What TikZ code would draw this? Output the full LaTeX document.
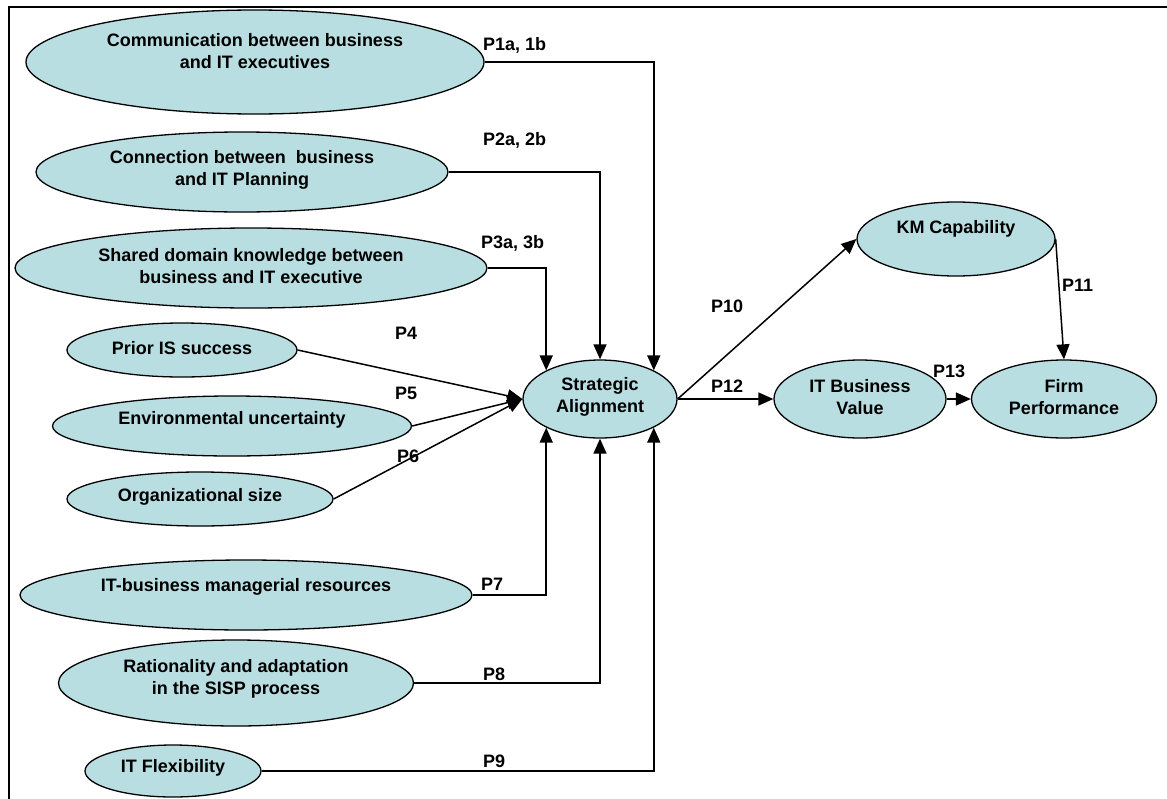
\documentclass[tikz,border=0pt]{standalone}
\usepackage{fontspec}
\setmainfont{Liberation Sans}
\usetikzlibrary{shapes.geometric,arrows.meta}
\definecolor{ellfill}{RGB}{185,222,226}
\begin{document}
\begin{tikzpicture}[x=1pt,y=-1pt,
  ell/.style={ellipse, draw, line width=1.3pt, fill=ellfill, inner sep=0pt},
  txt/.style={font=\bfseries\fontsize{18}{22}\selectfont, align=center, inner sep=0pt},
  lab/.style={font=\bfseries\fontsize{18}{22}\selectfont, anchor=west, inner sep=0pt},
  conn/.style={line width=1.5pt},
  arr/.style={conn, -{Triangle[length=15pt,width=13pt]}}]
\useasboundingbox (0,0) rectangle (1167,798);
\draw[line width=2.5pt] (9,800) -- (9,7) -- (1169,7);

% left-hand antecedents
\node[ell, minimum width=458, minimum height=104] (comm) at (255,62) {};
\node[txt] (commt) at (255,51) {Communication between business\\and IT executives};
\node[ell, minimum width=412, minimum height=80] (conn) at (242,172) {};
\node[txt] (connt) at (242,170) {Connection between\ \ business\\and IT Planning};
\node[ell, minimum width=472, minimum height=80] (shared) at (251,268) {};
\node[txt] (sharedt) at (251,266) {Shared domain knowledge between\\business and IT executive};
\node[ell, minimum width=230, minimum height=54] (prior) at (182,350) {};
\node[txt] (priort) at (182,348) {Prior IS success};
\node[ell, minimum width=359, minimum height=60] (env) at (232,426) {};
\node[txt] (envt) at (232,420) {Environmental uncertainty};
\node[ell, minimum width=266, minimum height=54] (org) at (200,499) {};
\node[txt] (orgt) at (200,497) {Organizational size};
\node[ell, minimum width=452, minimum height=70] (itbm) at (246,595) {};
\node[txt] (itbmt) at (246,587) {IT-business managerial resources};
\node[ell, minimum width=355, minimum height=86] (rat) at (236,683) {};
\node[txt] (ratt) at (236,679) {Rationality and adaptation\\in the SISP process};
\node[ell, minimum width=176, minimum height=52] (flex) at (173,771) {};
\node[txt] (flext) at (173,768) {IT Flexibility};

% central and outcome constructs
\node[ell, minimum width=154, minimum height=78] (sa) at (600,399) {};
\node[txt] (sat) at (600,397) {Strategic\\Alignment};
\node[ell, minimum width=198, minimum height=74] (km) at (956,239) {};
\node[txt] (kmt) at (956,229) {KM Capability};
\node[ell, minimum width=172, minimum height=78] (itbv) at (860,399) {};
\node[txt] (itbvt) at (860,397) {IT Business\\Value};
\node[ell, minimum width=185, minimum height=78] (firm) at (1064,399) {};
\node[txt] (firmt) at (1064,397) {Firm\\Performance};

% connectors
\draw[arr] (comm.east) -| (sa.28);
\draw[arr] (conn.east) -| (sa.north);
\draw[arr] (shared.east) -| (sa.152);
\draw[arr] (prior.east) -- (sa.west);
\draw[arr] (env.east) -- (sa.west);
\draw[arr] (org.east) -- (sa.west);
\draw[arr] (itbm.east) -| (sa.-152);
\draw[arr] (rat.east) -| (sa.south);
\draw[arr] (flex.east) -| (sa.-28);
\draw[arr] (sa.east) -- (km.west);
\draw[arr] (sa.east) -- (itbv.west);
\draw[arr] (itbv.east) -- (firm.west);
\draw[arr] (km.east) -- (firm.north);

% path labels
\node[lab] (p1) at (483,45) {P1a, 1b};
\node[lab] (p2) at (483,140) {P2a, 2b};
\node[lab] (p3) at (481,243) {P3a, 3b};
\node[lab] (p4) at (395,333) {P4};
\node[lab] (p5) at (395,393) {P5};
\node[lab] (p6) at (397,456) {P6};
\node[lab] (p7) at (481,584) {P7};
\node[lab] (p8) at (483,674) {P8};
\node[lab] (p9) at (483,761) {P9};
\node[lab] (p10) at (711,306) {P10};
\node[lab] (p12) at (711,386) {P12};
\node[lab] (p13) at (933,371) {P13};
\node[lab] (p11) at (1062,285) {P11};
\end{tikzpicture}
\end{document}
